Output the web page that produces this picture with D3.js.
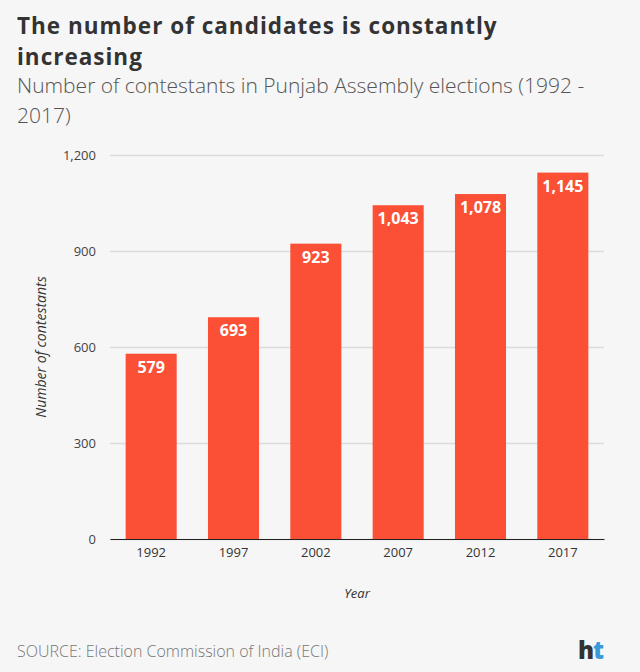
<!DOCTYPE html>
<html>
<head>
<meta charset="utf-8">
<script src="https://cdn.jsdelivr.net/npm/d3@7"></script>
<style>
  body { margin: 0; background: #f6f6f6; }
  #chart { position: relative; width: 640px; height: 672px; }
  svg { display: block; font-family: "Open Sans", sans-serif; }
  .head { position: absolute; left: 17px; margin: 0; font-family: "Open Sans", sans-serif; white-space: nowrap; }
  .title { top: 9.8px; font-size: 22.5px; line-height: 31px; letter-spacing: 1px; font-weight: 700; color: #333; }
  .subtitle { top: 69.9px; font-size: 21px; line-height: 30px; font-weight: 300; color: #555; }
</style>
</head>
<body>
<div id="chart"></div>
<script>
// data
const years = ["1992", "1997", "2002", "2007", "2012", "2017"];
const contestants = [579, 693, 923, 1043, 1078, 1145];
const yTicks = [0, 300, 600, 900, 1200];

const titleLines = ["The number of candidates is constantly", "increasing"];
const subtitleLines = ["Number of contestants in Punjab Assembly elections (1992 -", "2017)"];

const width = 640, height = 672;
const margin = { top: 155, right: 36, bottom: 133, left: 110 };

const chart = d3.select("#chart");

const svg = chart
  .append("svg")
  .attr("width", width)
  .attr("height", height);

svg.append("rect").attr("width", width).attr("height", height).attr("fill", "#f6f6f6");

// title and subtitle as html blocks, lines broken where the reference breaks them
chart.append("div").attr("class", "head title").html(titleLines.join("<br>"));
chart.append("div").attr("class", "head subtitle").html(subtitleLines.join("<br>"));

const x = d3.scaleBand()
  .domain(years)
  .range([margin.left, width - margin.right])
  .paddingInner(0.38)
  .paddingOuter(0.19);

const y = d3.scaleLinear()
  .domain([0, 1200])
  .range([height - margin.bottom, margin.top]);

// gridlines + y labels
const yAxis = d3.axisLeft(y)
  .tickValues(yTicks)
  .tickFormat(d3.format(","))
  .tickSize(-(width - margin.left - margin.right))
  .tickPadding(14);

const gy = svg.append("g")
  .attr("transform", `translate(${margin.left},0)`)
  .call(yAxis);
gy.select(".domain").remove();
gy.selectAll(".tick line").attr("stroke", "#dcdcdc").attr("stroke-width", 1.5);
gy.selectAll(".tick text").attr("fill", "#444").attr("font-size", 13).attr("font-family", "Open Sans");

// bars
svg.selectAll("rect.bar")
  .data(years)
  .enter().append("rect")
  .attr("class", "bar")
  .attr("x", d => x(d))
  .attr("width", x.bandwidth())
  .attr("y", (d, i) => y(contestants[i]))
  .attr("height", (d, i) => y(0) - y(contestants[i]))
  .attr("fill", "#fb5036");

// value labels
svg.selectAll("text.val")
  .data(years)
  .enter().append("text")
  .attr("class", "val")
  .attr("x", d => x(d) + x.bandwidth() / 2)
  .attr("y", (d, i) => y(contestants[i]) + 19)
  .attr("text-anchor", "middle")
  .attr("font-size", 16).attr("font-weight", 700).attr("fill", "#fff")
  .text((d, i) => d3.format(",")(contestants[i]));

// x axis
const gx = svg.append("g")
  .attr("transform", `translate(0,${y(0)})`)
  .call(d3.axisBottom(x).tickSize(0).tickPadding(9));
gx.select(".domain").attr("stroke", "#222").attr("stroke-width", 1.2);
gx.selectAll(".tick text").attr("fill", "#333").attr("font-size", 13).attr("font-family", "Open Sans");

// axis titles
svg.append("text")
  .attr("x", (margin.left + width - margin.right) / 2)
  .attr("y", 598)
  .attr("text-anchor", "middle")
  .attr("font-size", 13).attr("font-style", "italic").attr("fill", "#333")
  .text("Year");
svg.append("text")
  .attr("transform", `translate(46,${(y(0) + y(1200)) / 2}) rotate(-90)`)
  .attr("text-anchor", "middle")
  .attr("font-size", 14).attr("font-style", "italic").attr("fill", "#333")
  .text("Number of contestants");

// source + logo
svg.append("text").attr("x", 17).attr("y", 657)
  .attr("font-size", 16).attr("font-weight", 300).attr("fill", "#777")
  .text("SOURCE: Election Commission of India (ECI)");
const logo = svg.append("text").attr("x", 603).attr("y", 659)
  .attr("text-anchor", "end")
  .attr("font-size", 24).attr("font-weight", 800).attr("letter-spacing", -1);
logo.append("tspan").attr("fill", "#333").text("h");
logo.append("tspan").attr("fill", "#3a9ad9").text("t");
</script>
</body>
</html>
